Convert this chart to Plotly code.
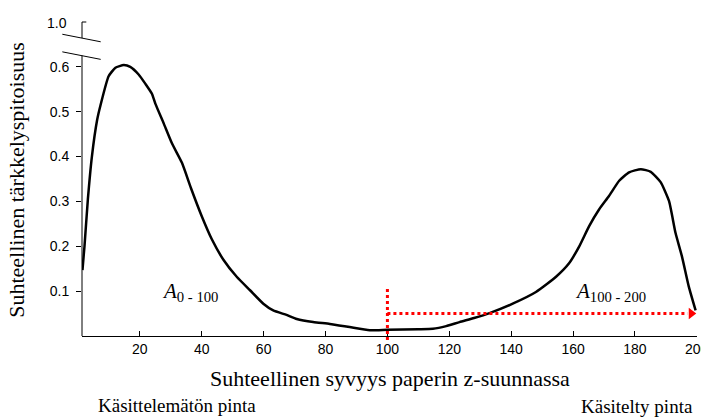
import plotly.graph_objects as go

# Data (x: relative depth, y: relative starch content)
depth = [1.45, 2.1, 3.2, 4.5, 6.2, 7.3, 9.9, 12.1, 14.8, 16.9, 19.6, 21.8, 23.9, 25.0,
         27.7, 30.4, 33.6, 36.5, 40.0, 43.3, 47.0, 51.3, 55.6, 59.9, 63.1, 67.4, 70.7,
         76.0, 81.4, 87.8, 94.3, 100.0, 110.0, 114.7, 119.0, 123.3, 128.0, 133.0, 140.5,
         148.0, 154.5, 158.7, 162.0, 165.2, 168.4, 171.6, 174.9, 178.1, 181.9, 185.1,
         188.3, 191.0, 193.1, 195.2, 197.4, 199.6]
starch = [0.147, 0.2, 0.305, 0.4, 0.482, 0.515, 0.579, 0.598, 0.604, 0.6, 0.583, 0.562,
          0.54, 0.518, 0.474, 0.429, 0.386, 0.33, 0.267, 0.215, 0.17, 0.132, 0.102,
          0.072, 0.057, 0.047, 0.038, 0.031, 0.027, 0.02, 0.013, 0.014, 0.015, 0.016,
          0.022, 0.031, 0.04, 0.051, 0.072, 0.098, 0.132, 0.162, 0.2, 0.245, 0.282,
          0.312, 0.346, 0.365, 0.372, 0.366, 0.343, 0.301, 0.23, 0.177, 0.11, 0.057]

x_ticks = [20, 40, 60, 80, 100, 120, 140, 160, 180, 200]
y_ticks = [0.1, 0.2, 0.3, 0.4, 0.5, 0.6]
y_tick_labels = ["0.1", "0.2", "0.3", "0.4", "0.5", "0.6"]
y_break_label = "1.0"   # shown at the top of the broken axis

split_x = 100
marker_y = 0.05
x_range = [1.3, 200.05]
y_range = [0, 0.7]

def px(v):
    return (v - x_range[0]) / (x_range[1] - x_range[0])

def py(v):
    return (v - y_range[0]) / (y_range[1] - y_range[0])

serif = "Liberation Serif, Times New Roman, serif"
sans = "Liberation Sans, Arial, sans-serif"
red = "#ff0000"

fig = go.Figure()
fig.add_trace(go.Scatter(x=depth, y=starch, mode="lines",
                         line=dict(color="black", width=2.5, shape="spline", smoothing=0.5),
                         showlegend=False, hoverinfo="skip"))
# horizontal red dotted line and arrowhead
fig.add_trace(go.Scatter(x=[split_x, 197.0], y=[marker_y, marker_y], mode="lines",
                         line=dict(color=red, width=3, dash="dot"),
                         showlegend=False, hoverinfo="skip"))
fig.add_trace(go.Scatter(x=[198.2], y=[marker_y], mode="markers",
                         marker=dict(symbol="triangle-right", size=10, color=red),
                         cliponaxis=False, showlegend=False, hoverinfo="skip"))

shapes = [
    # vertical red dotted line at split
    dict(type="line", xref="paper", yref="paper", x0=px(split_x), x1=px(split_x),
         y0=-0.013, y1=py(0.106), line=dict(color=red, width=3, dash="dot")),
    # y axis line with break
    dict(type="line", xref="paper", yref="paper", x0=0, x1=0, y0=0, y1=0.893,
         line=dict(color="black", width=1)),
    dict(type="line", xref="paper", yref="paper", x0=0, x1=0, y0=0.949, y1=1.0,
         line=dict(color="black", width=1)),
    # break marks
    dict(type="line", xref="paper", yref="paper", x0=-0.032, x1=0.0304, y0=0.961, y1=0.937,
         line=dict(color="black", width=1)),
    dict(type="line", xref="paper", yref="paper", x0=-0.032, x1=0.0304, y0=0.905, y1=0.881,
         line=dict(color="black", width=1)),
    # small tick at the top
    dict(type="line", xref="paper", yref="paper", x0=0, x1=0.007, y0=1.0, y1=1.0,
         line=dict(color="black", width=1)),
]

annotations = [
    dict(text="Suhteellinen syvyys paperin z-suunnassa", xref="paper", yref="paper",
         x=0.5, y=-0.134, xanchor="center", yanchor="middle", showarrow=False,
         font=dict(family=serif, size=22, color="black")),
    dict(text="Suhteellinen tärkkelyspitoisuus", xref="paper", yref="paper",
         x=-0.106, y=0.497, xanchor="center", yanchor="middle", textangle=-90,
         showarrow=False, font=dict(family=serif, size=22, color="black")),
    dict(text="Käsittelemätön pinta", xref="paper", yref="paper",
         x=0.1545, y=-0.222, xanchor="center", yanchor="middle", showarrow=False,
         font=dict(family=serif, size=19, color="black")),
    dict(text="Käsitelty pinta", xref="paper", yref="paper",
         x=0.9024, y=-0.226, xanchor="center", yanchor="middle", showarrow=False,
         font=dict(family=serif, size=19, color="black")),
    dict(text=y_break_label, xref="paper", yref="paper", x=-0.021, y=0.998,
         xanchor="right", yanchor="middle", showarrow=False,
         font=dict(family=sans, size=14, color="black")),
    dict(text="<i>A</i><sub>0 - 100</sub>", xref="x", yref="y", x=26.6, y=0.098,
         xanchor="left", yanchor="middle", showarrow=False,
         font=dict(family=serif, size=21, color="black")),
    dict(text="<i>A</i><sub>100 - 200</sub>", xref="x", yref="y", x=160.0, y=0.098,
         xanchor="left", yanchor="middle", showarrow=False,
         font=dict(family=serif, size=21, color="black")),
    # last x tick label, drawn so it is not auto-hidden at the right edge
    dict(text=str(x_ticks[-1]), xref="x", yref="paper", x=x_ticks[-1], y=-0.042,
         xanchor="center", yanchor="middle", showarrow=False,
         font=dict(family=sans, size=14, color="black")),
]

fig.update_layout(
    width=701, height=417,
    margin=dict(l=82, r=4, t=22, b=81),
    paper_bgcolor="white", plot_bgcolor="white",
    shapes=shapes, annotations=annotations,
    xaxis=dict(range=x_range, tickvals=x_ticks,
               ticktext=[str(t) for t in x_ticks[:-1]] + [""],
               ticks="inside", ticklen=5,
               tickcolor="black", showline=True, linecolor="black", linewidth=1,
               showgrid=False, zeroline=False,
               tickfont=dict(family=sans, size=14, color="black")),
    yaxis=dict(range=y_range, tickvals=y_ticks, ticktext=y_tick_labels, ticks="outside",
               ticklen=5, tickcolor="black", showline=False, showgrid=False,
               zeroline=False, ticklabelstandoff=4,
               tickfont=dict(family=sans, size=14, color="black")),
)

fig.write_html("out.html")
